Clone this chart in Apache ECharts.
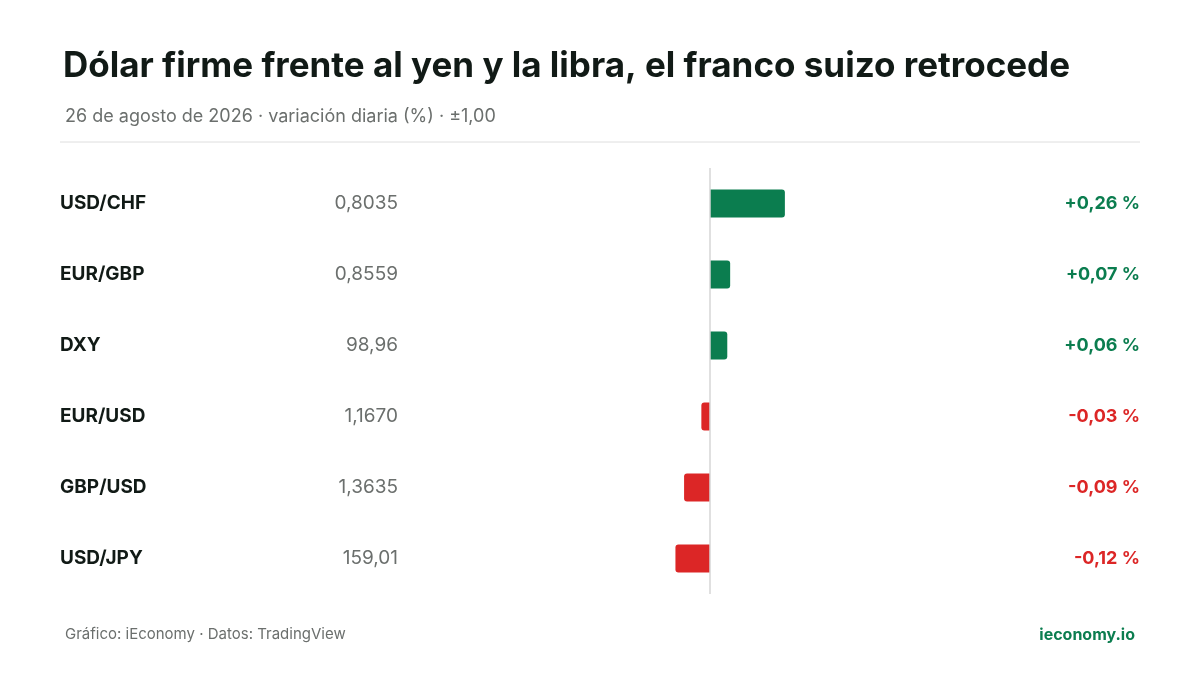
<!DOCTYPE html>
<html><head><meta charset="utf-8">
<script src="https://cdn.jsdelivr.net/npm/echarts@6/dist/echarts.min.js"></script>
<style>body{margin:0}#c{width:1200px;height:675px}</style></head>
<body><div id="c"></div>
<script>
const pairs = ['USD/CHF','EUR/GBP','DXY','EUR/USD','GBP/USD','USD/JPY'];
const prices = ['0,8035','0,8559','98,96','1,1670','1,3635','159,01'];
const changes = [0.26, 0.07, 0.06, -0.03, -0.09, -0.12];
const GREEN = '#0b7d4f', RED = '#dc2626';
const fmt = v => (v > 0 ? '+' : '-') + Math.abs(v).toFixed(2).replace('.', ',') + ' %';
const chart = echarts.init(document.getElementById('c'));
const F = 'Inter, sans-serif';
chart.setOption({
  backgroundColor: '#fff',
  animation: false,
  title: [
    {text: 'Dólar firme frente al yen y la libra, el franco suizo retrocede', left: 58, top: 44,
     textStyle: {fontFamily: F, fontSize: 35, fontWeight: 'bold', color: '#111a16'}},
    {text: '26 de agosto de 2026 · variación diaria (%) · ±1,00', left: 60, top: 103,
     textStyle: {fontFamily: F, fontSize: 18, fontWeight: 'normal', color: '#6b6f6d'}},
    {text: 'Gráfico: iEconomy · Datos: TradingView', left: 60, top: 622,
     textStyle: {fontFamily: F, fontSize: 15, fontWeight: 'normal', color: '#6b6f6d'}},
    {text: 'ieconomy.io', right: 60, top: 622,
     textStyle: {fontFamily: F, fontSize: 16, fontWeight: 'bold', color: GREEN}}
  ],
  graphic: [{type: 'line', shape: {x1: 60, y1: 142, x2: 1140, y2: 142}, style: {stroke: '#dedede', lineWidth: 1}}],
  grid: {left: 422, right: 202, top: 168, height: 426},
  xAxis: {type: 'value', min: -1, max: 1, show: false},
  yAxis: [
    {type: 'category', data: pairs, inverse: true, position: 'left', axisLine: {show: false}, axisTick: {show: false},
     axisLabel: {margin: 362, align: 'left', fontFamily: F, fontSize: 19, fontWeight: 'bold', color: '#111a16'}},
    {type: 'category', data: prices, inverse: true, position: 'left', axisLine: {show: false}, axisTick: {show: false},
     axisLabel: {margin: 24, align: 'right', fontFamily: F, fontSize: 19, color: '#6b6f6d'}},
    {type: 'category', data: changes.map(fmt), inverse: true, position: 'right', axisLine: {show: false}, axisTick: {show: false},
     axisLabel: {margin: 142, align: 'right', fontFamily: F, fontSize: 18, fontWeight: 'bold',
       color: (v, i) => changes[i] >= 0 ? GREEN : RED}}
  ],
  series: [{
    type: 'bar', barWidth: 28,
    data: changes.map(v => ({value: v, itemStyle: {color: v >= 0 ? GREEN : RED,
      borderRadius: v >= 0 ? [0, 3, 3, 0] : [3, 0, 0, 3]}})),
    markLine: {silent: true, symbol: 'none', label: {show: false},
      lineStyle: {color: '#d6d6d6', type: 'solid', width: 1.5}, data: [{xAxis: 0}]}
  }]
});
</script></body></html>
